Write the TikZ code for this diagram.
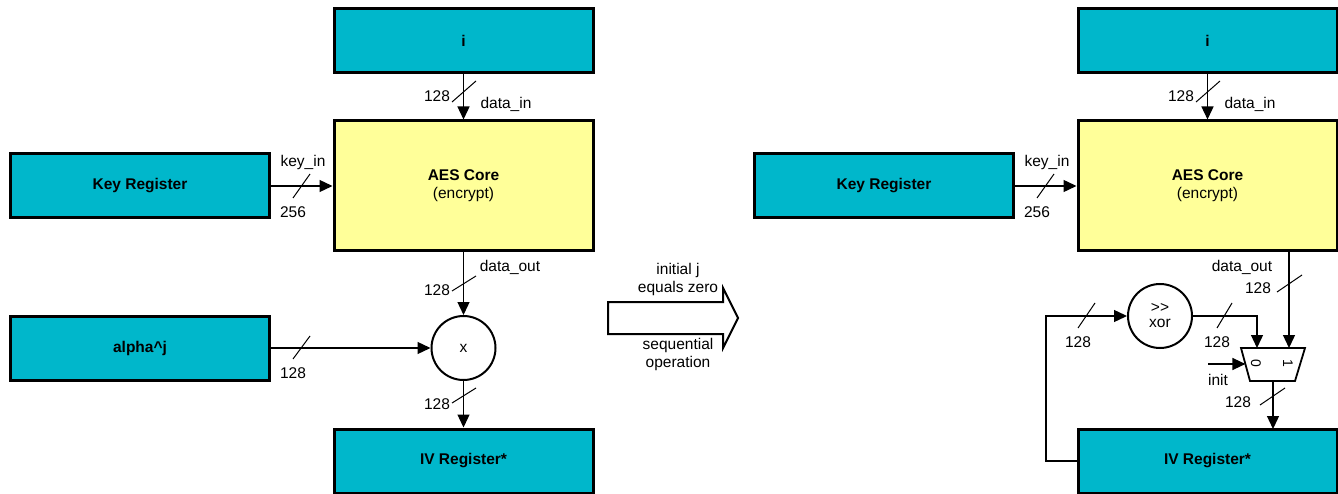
\documentclass[tikz,border=0pt]{standalone}
\usepackage{fontspec}
\setmainfont{Liberation Sans}
\usetikzlibrary{arrows.meta,calc}
\definecolor{regcyan}{RGB}{0,183,203}
\definecolor{coreyellow}{RGB}{255,255,153}
\newcommand{\basefont}{\fontsize{15.5pt}{18pt}\selectfont}
\tikzset{
  regbox/.style={draw=black,line width=3pt,fill=regcyan,minimum width=259pt,minimum height=64pt,inner sep=0pt,font=\basefont\bfseries},
  corebox/.style={draw=black,line width=3pt,fill=coreyellow,minimum width=259pt,minimum height=130pt,inner sep=0pt,align=center},
  opcirc/.style={draw=black,line width=2pt,circle,minimum size=64pt,inner sep=0pt,fill=white,align=center},
  conn/.style={line width=1.3pt,-{Triangle[length=13pt,width=12pt]}},
  slash/.style={line width=1pt},
  lbl/.style={inner sep=0pt,anchor=center},
  muxlbl/.style={inner sep=0pt,anchor=center,rotate=-90,font=\fontsize{14pt}{16pt}\selectfont},
}
\begin{document}
\begin{tikzpicture}[x=1pt,y=-1pt,font=\basefont]
\useasboundingbox (0,0) rectangle (1338,494);
% ---------- left diagram ----------
\node[regbox] (i1) at (463.5,40.5) {i};
\node[corebox] (aes1) at (463.5,186) {\textbf{AES Core}\\(encrypt)};
\node[regbox] (key1) at (140,186) {Key Register};
\node[regbox] (alpha) at (140,348) {alpha\^{}j};
\node[regbox] (iv1) at (463.5,461) {IV Register*};
\node[opcirc] (mul) at (463.5,348) {x};

\draw[conn] (i1.south) -- (aes1.north);
\draw[slash] (452,102) -- (476,81);
\node[lbl] at (437,96) {128};
\node[lbl] at (506,104) {data\_in};

\draw[conn] (key1.east) -- (aes1.west);
\draw[slash] (293,198) -- (310,174);
\node[lbl] at (303,162) {key\_in};
\node[lbl] at (293,212) {256};

\draw[conn] (aes1.south) -- (mul.north);
\draw[slash] (452,291) -- (476,276);
\node[lbl] at (437,290) {128};
\node[lbl] at (510,267) {data\_out};

\draw[conn] (alpha.east) -- (mul.west);
\draw[slash] (293,359) -- (310,336);
\node[lbl] at (293,373) {128};

\draw[conn] (mul.south) -- (iv1.north);
\draw[slash] (452,403) -- (476,388);
\node[lbl] at (437,404) {128};

% ---------- transition arrow ----------
\draw[line width=2pt,fill=white] (608,302) -- (723,302) -- (723,288) -- (738,318)
  -- (723,348) -- (723,334) -- (608,334) -- cycle;
\node[lbl,align=center] (topnote) at (678,279) {initial j\\equals zero};
\node[lbl,align=center] (botnote) at (678,354) {sequential\\operation};

% ---------- right diagram ----------
\node[regbox] (i2) at (1207.5,40.5) {i};
\node[corebox] (aes2) at (1207.5,186) {\textbf{AES Core}\\(encrypt)};
\node[regbox] (key2) at (884,186) {Key Register};
\node[regbox] (iv2) at (1207.5,461) {IV Register*};
\node[opcirc] (xor) at (1160,316) {>\kern0.3pt>\\[-3pt]xor};

\draw[conn] (i2.south) -- (aes2.north);
\draw[slash] (1196,102) -- (1220,81);
\node[lbl] at (1181,96) {128};
\node[lbl] at (1250,104) {data\_in};

\draw[conn] (key2.east) -- (aes2.west);
\draw[slash] (1037,198) -- (1054,174);
\node[lbl] at (1047,162) {key\_in};
\node[lbl] at (1037,212) {256};

% mux
\coordinate (mTL) at (1241,348);
\coordinate (mTR) at (1305,348);
\coordinate (mBR) at (1295,381);
\coordinate (mBL) at (1250,381);
\draw[line width=1.8pt,fill=white] (mTL) -- (mTR) -- (mBR) -- (mBL) -- cycle;
\coordinate (mux0) at (1257,348);
\coordinate (mux1) at (1289,348);
\coordinate (muxout) at (1273,381);
\coordinate (muxsel) at (1245.4,364);
\node[muxlbl] at (1256,363) {0};
\node[muxlbl] at (1288,363) {1};

\coordinate (doutTop) at (1289,251);
\draw[conn] (doutTop) -- (mux1);
\node[lbl] at (1242,267) {data\_out};
\draw[slash] (1277,292) -- (1302,275);
\node[lbl] at (1258,288) {128};

\coordinate (xorTurn) at (1257,316);
\draw[conn] (xor.east) -- (xorTurn) -- (mux0);
\draw[slash] (1217,328) -- (1232,303);
\node[lbl] at (1217,342) {128};

\coordinate (loopB) at (1046,461);
\coordinate (loopT) at (1046,316);
\draw[conn] (iv2.west) -- (loopB) -- (loopT) -- (xor.west);
\draw[slash] (1078,328) -- (1095,303);
\node[lbl] at (1078,342) {128};

\coordinate (initStart) at (1208,364);
\draw[conn] (initStart) -- (muxsel);
\node[lbl] at (1218,380) {init};

\coordinate (ivTop) at (1273,429);
\draw[conn] (muxout) -- (ivTop);
\draw[slash] (1260,405) -- (1285,388);
\node[lbl] at (1238,402) {128};
\end{tikzpicture}
\end{document}
